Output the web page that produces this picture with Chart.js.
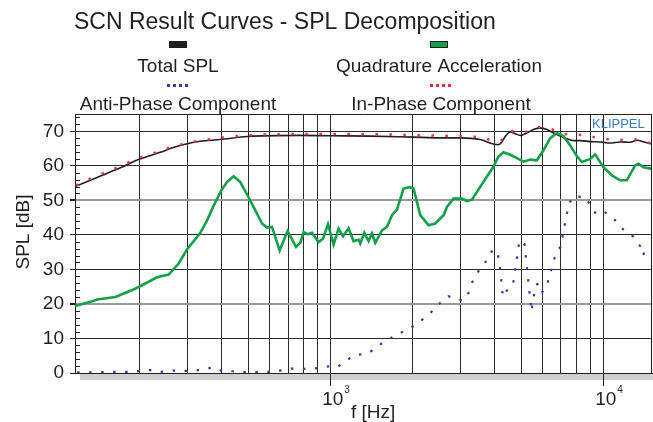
<!DOCTYPE html>
<html lang="en">
<head>
  <meta charset="UTF-8" />
  <title>SCN Result Curves - SPL Decomposition</title>
  <script src="https://cdn.jsdelivr.net/npm/chart.js"></script>
  <style>
    body {
      margin: 0;
      background: #ffffff;
    }
    #splChart {
      display: block;
    }
  </style>
</head>
<body>
  <canvas id="splChart" width="653" height="422"></canvas>

  <script>
    const FONT = "'Liberation Sans', Arial, Helvetica, sans-serif";

    // frequency grid (Hz) and level axis (dB)
    const xGrid = [200, 300, 400, 500, 600, 700, 800, 900, 1000, 2000, 3000, 4000, 5000, 6000, 7000, 8000, 9000, 10000];
    const decades = [1000, 10000];
    const yTicks = [0, 10, 20, 30, 40, 50, 60, 70];

    // Total SPL
    const totalHz = [116, 142.5, 158, 174.5, 198, 238, 264, 299, 334, 395, 497, 776, 1000, 1400, 1997, 2529, 2993, 3543, 3759, 3955, 4125, 4256, 4376, 4565, 4762, 4967, 5256, 5556, 5878, 6219, 6575, 6958, 7362, 7786, 8238, 8962, 9750, 10608, 11541, 12557, 13322, 14248, 15118];
    const totalDb = [54.0, 56.9, 58.4, 59.8, 61.8, 63.9, 65.2, 66.4, 67.1, 67.6, 68.5, 68.8, 68.7, 68.6, 68.3, 68.1, 68.1, 67.6, 66.9, 66.3, 66.1, 66.9, 68.5, 69.8, 69.3, 68.8, 69.5, 70.5, 70.9, 70.5, 69.5, 68.6, 67.8, 67.3, 67.3, 67.0, 66.9, 66.6, 66.9, 66.8, 67.4, 66.8, 66.3];

    // Quadrature Acceleration
    const quadHz = [116.4, 132.1, 139.8, 163.1, 185.1, 198.5, 231.8, 255.7, 278.2, 298.6, 334.1, 353.5, 373.6, 398.7, 418.3, 442.3, 468.0, 497.8, 531.2, 562.1, 586.4, 611.6, 652.1, 697.6, 748.8, 776.4, 798.5, 826.0, 857.1, 906.0, 940.3, 980.8, 1028, 1072, 1113, 1167, 1217, 1270, 1288, 1332, 1381, 1421, 1462, 1547, 1613, 1683, 1755, 1856, 1952, 2019, 2137, 2291, 2424, 2601, 2676, 2829, 3037, 3168, 3304, 3543, 3965, 4125, 4314, 4565, 4830, 5107, 5404, 5716, 6044, 6395, 6766, 7154, 7570, 8012, 8357, 8962, 9348, 10025, 10761, 11541, 12213, 13100, 13469, 14050, 15118];
    const quadDb = [19.4, 20.6, 21.3, 22.0, 23.8, 24.9, 27.7, 28.5, 31.7, 35.8, 40.6, 44.2, 48.4, 52.9, 55.3, 57.0, 55.3, 51.4, 47.1, 43.3, 42.1, 42.3, 35.5, 41.1, 36.5, 37.7, 40.8, 40.2, 40.6, 37.9, 38.9, 43.1, 37.2, 41.8, 39.6, 41.9, 38.2, 38.6, 37.5, 40.6, 38.2, 40.4, 37.7, 41.3, 42.3, 45.7, 47.3, 53.4, 53.8, 53.4, 45.7, 42.8, 43.3, 45.7, 48.1, 50.5, 50.5, 49.8, 50.2, 53.9, 59.8, 62.6, 63.9, 63.2, 62.2, 61.2, 61.8, 61.6, 64.5, 68.0, 69.5, 68.6, 65.9, 62.8, 61.1, 62.0, 63.3, 59.6, 57.2, 55.8, 55.8, 60.1, 60.6, 59.6, 59.1];

    // In-Phase Component
    const inHz = [117, 129.6, 142.5, 157.7, 174.5, 193.1, 213.7, 237.8, 264.5, 296.1, 331.3, 373.6, 420.5, 474.9, 535.6, 604, 700, 1000, 1500, 2019, 2273, 2877, 3238, 3643, 4079, 4386, 4654, 5192, 5649, 6326, 7000, 7719, 8642, 9667, 10816, 12009, 13357, 14704, 15118];
    const inDb = [54.3, 56.0, 57.4, 58.8, 60.4, 61.8, 63.1, 64.3, 65.5, 66.5, 67.3, 67.8, 68.3, 68.7, 69.0, 69.1, 69.2, 69.2, 69.1, 68.9, 68.8, 68.6, 68.5, 68.1, 67.0, 68.3, 70.0, 69.8, 71.2, 70.9, 69.3, 69.1, 68.8, 68.0, 67.6, 67.5, 67.6, 66.7, 66.5];

    // Anti-Phase Component
    const antiHz = [118.1, 132.1, 149.9, 168.7, 190.3, 213.2, 237.0, 266.7, 301.1, 338.9, 373.6, 403.1, 440.1, 495.1, 554.1, 625.2, 697.6, 748.8, 826.0, 901.4, 985.8, 1061, 1142, 1238, 1381, 1483, 1613, 1764, 1883, 2036, 2137, 2280, 2424, 2579, 2713, 2937, 3104, 3229, 3304, 3426, 3613, 3792, 3932, 4101, 4149, 4195, 4292, 4365, 4553, 4670, 4937, 5149, 5463, 5649, 5843, 5993, 6183, 6326, 6465, 6744, 6976, 7487, 7809, 8612, 9403, 10025, 10725, 11868, 12848, 13698, 13931, 14457, 14953];
    const antiDb = [0.2, 0.2, 0.3, 0.3, 0.3, 1.0, 0.3, 0.7, 0.6, 0.9, 1.7, 0.5, 0.5, 0.2, 0.3, 0.3, 1.2, 1.3, 1.2, 1.4, 1.9, 1.7, 3.6, 5.2, 5.7, 7.7, 9.5, 11.2, 12.3, 13.7, 15.0, 16.7, 18.8, 21.0, 22.2, 21.1, 21.1, 23.6, 26.1, 28.6, 31.0, 33.2, 35.7, 35.0, 32.5, 30.0, 22.1, 23.5, 24.5, 25.5, 38.4, 37.3, 17.8, 25.4, 26.1, 23.5, 24.9, 27.3, 30.1, 35.1, 36.5, 49.1, 51.2, 50.9, 46.1, 46.8, 45.4, 41.5, 39.6, 36.6, 34.1, 35.5, 36.7];

    const pairs = (xs, ys) => xs.map((x, i) => ({ x: x, y: ys[i] }));

    // title, legend, box frame, minor ticks and axis captions
    const decor = {
      id: 'decor',
      beforeDraw(chart) {
        const { ctx, chartArea: a } = chart;
        ctx.save();
        ctx.fillStyle = '#cfcfcf';
        ctx.fillRect(a.left + 5, a.bottom, a.right - a.left, 7);
        ctx.restore();
      },
      afterDraw(chart) {
        const { ctx, chartArea: a, scales } = chart;
        const ds = chart.data.datasets;
        ctx.save();

        // frame top and right
        ctx.strokeStyle = '#231f20';
        ctx.lineWidth = 1;
        ctx.beginPath();
        ctx.moveTo(a.left, a.top + 0.5);
        ctx.lineTo(a.right, a.top + 0.5);
        ctx.moveTo(a.right - 0.5, a.top);
        ctx.lineTo(a.right - 0.5, a.bottom);
        ctx.stroke();

        // minor level ticks every 2 dB, inside the box
        ctx.beginPath();
        for (let v = 2; v < scales.y.max; v += 2) {
          if (v % 10 === 0) continue;
          const y = Math.round(scales.y.getPixelForValue(v)) + 0.5;
          ctx.moveTo(a.left, y);
          ctx.lineTo(a.left + 5, y);
        }
        ctx.stroke();

        ctx.fillStyle = '#231f20';
        ctx.textBaseline = 'alphabetic';

        // title
        ctx.font = '23px ' + FONT;
        ctx.textAlign = 'left';
        ctx.fillText('SCN Result Curves - SPL Decomposition', 74, 29);

        // legend: marker above label, two columns
        const legend = [
          { label: 'Total SPL', cx: 178, my: 41, ty: 72 },
          { label: 'Quadrature Acceleration', cx: 439, my: 41, ty: 72 },
          { label: 'Anti-Phase Component', cx: 178, my: 84, ty: 110 },
          { label: 'In-Phase Component', cx: 441, my: 84, ty: 110 }
        ];
        ctx.font = '19px ' + FONT;
        ctx.textAlign = 'center';
        legend.forEach(item => {
          const d = ds.find(s => s.label === item.label);
          ctx.fillStyle = d.borderColor;
          if (d.borderDash) {
            for (let k = 0; k < 4; k++) {
              ctx.fillRect(item.cx - 11 + k * 6, item.my, 3, 3);
            }
          } else {
            ctx.fillRect(item.cx - 9, item.my, 18, 7);
            ctx.strokeStyle = '#1d1d1d';
            ctx.strokeRect(item.cx - 8.5, item.my + 0.5, 17, 6);
          }
          ctx.fillStyle = '#231f20';
          ctx.fillText(d.label, item.cx, item.ty);
        });

        // decade labels on the frequency axis
        decades.forEach(v => {
          const x = scales.x.getPixelForValue(v);
          ctx.textAlign = 'left';
          ctx.font = '19px ' + FONT;
          ctx.fillText('10', x - 8, 405);
          ctx.font = '10px ' + FONT;
          ctx.fillText(String(Math.round(Math.log10(v))), x + 14, 393);
        });
        ctx.font = '19px ' + FONT;
        ctx.fillText('f [Hz]', 351, 418);

        // level axis caption
        ctx.save();
        ctx.translate(24, 232);
        ctx.rotate(-Math.PI / 2);
        ctx.textAlign = 'center';
        ctx.textBaseline = 'middle';
        ctx.fillText('SPL [dB]', 0, 0);
        ctx.restore();

        // brand mark
        ctx.fillStyle = '#3b7dc4';
        ctx.font = '13px ' + FONT;
        ctx.textAlign = 'left';
        ctx.fillText('KLIPPEL', 592, 128);

        ctx.restore();
      }
    };

    const ctx = document.getElementById('splChart').getContext('2d');

    // datasets listed first are drawn on top
    new Chart(ctx, {
      type: 'line',
      data: {
        datasets: [
          {
            label: 'Quadrature Acceleration',
            data: pairs(quadHz, quadDb),
            borderColor: '#13a04a',
            borderWidth: 2.6,
            pointRadius: 0,
            tension: 0
          },
          {
            label: 'In-Phase Component',
            data: pairs(inHz, inDb),
            borderColor: '#e8323c',
            borderWidth: 2.5,
            borderDash: [2.5, 11.5],
            pointRadius: 0,
            cubicInterpolationMode: 'monotone'
          },
          {
            label: 'Total SPL',
            data: pairs(totalHz, totalDb),
            borderColor: '#231f20',
            borderWidth: 1.6,
            pointRadius: 0,
            cubicInterpolationMode: 'monotone'
          },
          {
            label: 'Anti-Phase Component',
            data: pairs(antiHz, antiDb),
            borderColor: '#3a3a9c',
            borderWidth: 2.2,
            borderDash: [2.5, 9.5],
            pointRadius: 0,
            tension: 0
          }
        ]
      },
      options: {
        responsive: false,
        animation: false,
        layout: { padding: { top: 114, right: 1, left: 0, bottom: 0 } },
        plugins: {
          legend: { display: false },
          tooltip: { enabled: false }
        },
        scales: {
          x: {
            type: 'logarithmic',
            min: 116,
            max: 15100,
            afterBuildTicks: s => { s.ticks = xGrid.map(v => ({ value: v })); },
            afterFit: s => { s.height = 49; },
            ticks: { display: false },
            grid: {
              color: '#2b2b2b',
              lineWidth: 1,
              tickLength: 13,
              tickColor: c => decades.includes(c.tick.value) ? '#231f20' : 'rgba(0,0,0,0)'
            },
            border: { display: true, color: '#231f20', width: 1 }
          },
          y: {
            min: 0,
            max: 75,
            afterBuildTicks: s => { s.ticks = yTicks.map(v => ({ value: v })); },
            afterFit: s => { s.width = 75; },
            ticks: {
              color: '#231f20',
              padding: 6,
              font: { family: FONT, size: 19 }
            },
            grid: {
              color: c => (c.tick.value === 20 || c.tick.value === 50) ? '#9b9b9b' : '#2b2b2b',
              lineWidth: c => (c.tick.value === 20 || c.tick.value === 50) ? 2 : 1,
              tickLength: 5,
              tickColor: '#231f20'
            },
            border: { display: true, color: '#231f20', width: 1 }
          }
        }
      },
      plugins: [decor]
    });
  </script>
</body>
</html>
